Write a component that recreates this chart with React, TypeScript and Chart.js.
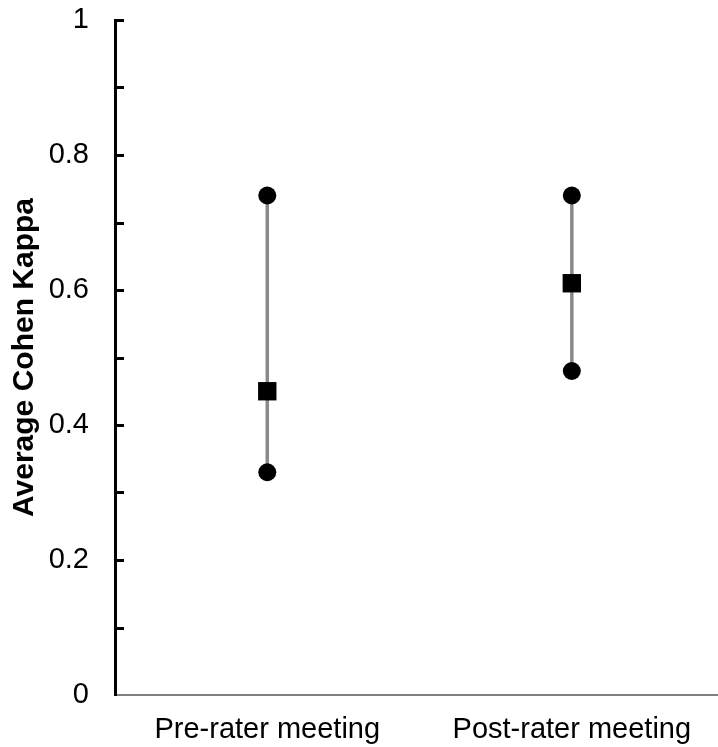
import React, { useEffect, useRef } from "react";
import { Chart, registerables } from "chart.js";

Chart.register(...registerables);

const categories = ["Pre-rater meeting", "Post-rater meeting"];
const minKappa = [0.33, 0.48];
const meanKappa = [0.45, 0.61];
const maxKappa = [0.74, 0.74];
const yTickValues = [0, 0.1, 0.2, 0.3, 0.4, 0.5, 0.6, 0.7, 0.8, 0.9, 1];

const FONT = "'Liberation Sans', Arial, sans-serif";

const zeroPadding = (scale: any) => {
  scale.paddingLeft = 0;
  scale.paddingRight = 0;
  scale.paddingTop = 0;
  scale.paddingBottom = 0;
};

const inwardTicks = {
  id: "inwardTicks",
  afterDatasetsDraw(chart: any) {
    const y = chart.scales.y;
    const left = chart.chartArea.left;
    const ctx = chart.ctx;
    ctx.save();
    ctx.strokeStyle = "#000";
    ctx.lineWidth = 3;
    yTickValues.forEach((v) => {
      if (v === 0) return;
      const py = Math.round(y.getPixelForValue(v)) + 0.5;
      ctx.beginPath();
      ctx.moveTo(left, py);
      ctx.lineTo(left + 9, py);
      ctx.stroke();
    });
    ctx.restore();
  },
};

export default function App() {
  const ref = useRef<HTMLCanvasElement | null>(null);
  useEffect(() => {
    if (!ref.current) return;
    const rangeSets = categories.map((_, i) => ({
      type: "scatter" as const,
      data: [
        { x: i, y: minKappa[i] },
        { x: i, y: maxKappa[i] },
      ],
      showLine: true,
      borderColor: "#898989",
      borderWidth: 3.5,
      pointRadius: 9,
      pointStyle: "circle",
      pointBackgroundColor: "#000",
      pointBorderColor: "#000",
      pointBorderWidth: 0,
      order: 2,
    }));
    const meanSet = {
      type: "scatter" as const,
      data: categories.map((_, i) => ({ x: i, y: meanKappa[i] })),
      showLine: false,
      pointRadius: 13,
      pointStyle: "rect",
      pointBackgroundColor: "#000",
      pointBorderColor: "#000",
      pointBorderWidth: 0,
      order: 1,
    };
    const chart = new Chart(ref.current, {
      type: "scatter",
      data: { datasets: [...rangeSets, meanSet] as any },
      options: {
        animation: false,
        responsive: false,
        layout: { autoPadding: false, padding: { top: 20, right: 0, bottom: 0, left: 0 } },
        plugins: {
          legend: { display: false },
          tooltip: { enabled: false },
        },
        scales: {
          x: {
            type: "linear",
            min: -0.5,
            max: 1.48,
            afterBuildTicks: (scale: any) => {
              scale.ticks = categories.map((_, i) => ({ value: i }));
            },
            afterFit: (scale: any) => {
              scale.height = 52;
              zeroPadding(scale);
            },
            ticks: {
              callback: (v: any) => categories[Math.round(Number(v))] ?? "",
              color: "#000",
              font: { family: FONT, size: 29 },
              padding: 18,
              maxRotation: 0,
              autoSkip: false,
            },
            grid: { drawOnChartArea: false, drawTicks: false },
            border: { color: "#7f7f7f", width: 2 },
          },
          y: {
            type: "linear",
            min: 0,
            max: 1,
            afterBuildTicks: (scale: any) => {
              scale.ticks = yTickValues.map((v) => ({ value: v }));
            },
            afterFit: (scale: any) => {
              scale.width = 115;
              zeroPadding(scale);
            },
            ticks: {
              callback: (v: any) => {
                const n = Math.round(Number(v) * 10);
                return n % 2 === 0 ? String(n / 10) : "";
              },
              color: "#000",
              font: { family: FONT, size: 29 },
              padding: 26,
            },
            grid: { drawOnChartArea: false, drawTicks: false },
            border: { color: "#000", width: 3 },
            title: {
              display: true,
              text: "Average Cohen Kappa",
              color: "#000",
              font: { family: FONT, size: 30, weight: "bold" },
              padding: { top: 7, bottom: 0 },
            },
          },
        },
      },
      plugins: [inwardTicks],
    });
    return () => chart.destroy();
  }, []);
  return (
    <div style={{ position: "fixed", left: 0, top: 0, width: 718, height: 747, background: "#fff" }}>
      <canvas ref={ref} width={718} height={747} style={{ display: "block", width: 718, height: 747 }} />
    </div>
  );
}
